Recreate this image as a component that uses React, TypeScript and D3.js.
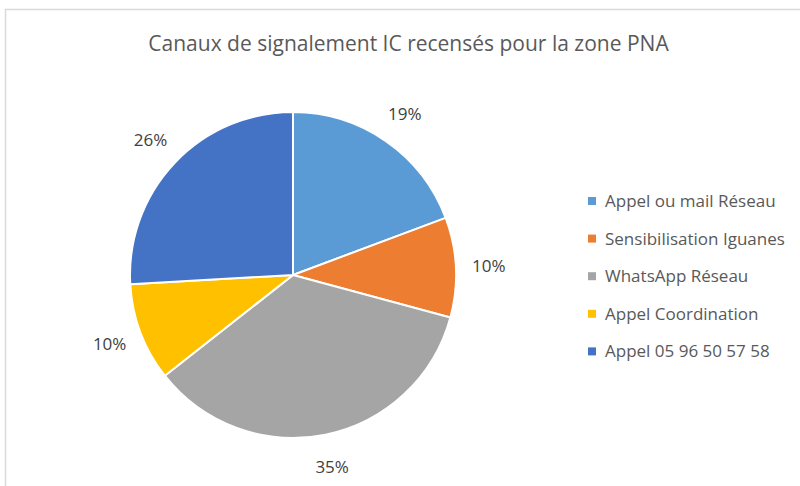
import React, { useEffect, useRef } from "react";
import * as d3 from "d3";

const categories = [
  "Appel ou mail Réseau",
  "Sensibilisation Iguanes",
  "WhatsApp Réseau",
  "Appel Coordination",
  "Appel 05 96 50 57 58",
];
const values = [19.3, 9.9, 35.2, 9.7, 25.9];
const colors = ["#5B9BD5", "#ED7D31", "#A5A5A5", "#FFC000", "#4472C4"];
const title = "Canaux de signalement IC recensés pour la zone PNA";

const App = () => {
  const ref = useRef<SVGSVGElement>(null);

  useEffect(() => {
    const svg = d3.select(ref.current);
    svg.selectAll("*").remove();

    const width = 800;
    const height = 486;
    const cx = 293;
    const cy = 275;
    const radius = 163;
    const font = "'Open Sans', sans-serif";

    svg.attr("width", width).attr("height", height);

    // chart frame (clipped at right and bottom like the screenshot)
    svg
      .append("rect")
      .attr("x", 5.5)
      .attr("y", 9.5)
      .attr("width", 820)
      .attr("height", 500)
      .attr("fill", "white")
      .attr("stroke", "#d9d9d9")
      .attr("stroke-width", 1.5);

    svg
      .append("text")
      .attr("x", 408.5)
      .attr("y", 51)
      .attr("text-anchor", "middle")
      .style("font-family", font)
      .style("font-size", "21px")
      .attr("fill", "#595959")
      .text(title);

    const total = d3.sum(values);
    const pie = d3.pie<number>().sort(null).value((d) => d);
    const arcs = pie(values);
    const arc = d3.arc<d3.PieArcDatum<number>>().innerRadius(0).outerRadius(radius);
    const labelArc = d3
      .arc<d3.PieArcDatum<number>>()
      .innerRadius(196)
      .outerRadius(196);

    const g = svg.append("g").attr("transform", `translate(${cx},${cy})`);

    g.selectAll("path")
      .data(arcs)
      .join("path")
      .attr("d", arc)
      .attr("fill", (_, i) => colors[i])
      .attr("stroke", "white")
      .attr("stroke-width", 2)
      .attr("stroke-linejoin", "round");

    g.selectAll("text")
      .data(arcs)
      .join("text")
      .attr("transform", (d) => `translate(${labelArc.centroid(d)})`)
      .attr("text-anchor", "middle")
      .attr("dy", "0.35em")
      .style("font-family", font)
      .style("font-size", "17px")
      .attr("fill", "#404040")
      .text((d) => `${Math.round((d.data / total) * 100)}%`);

    // legend
    const legend = svg
      .selectAll("g.legend")
      .data(categories)
      .join("g")
      .attr("class", "legend")
      .attr("transform", (_, i) => `translate(588,${201 + i * 37.6})`);

    legend
      .append("rect")
      .attr("x", 0)
      .attr("y", -4)
      .attr("width", 8)
      .attr("height", 8)
      .attr("fill", (_, i) => colors[i]);

    legend
      .append("text")
      .attr("x", 17)
      .attr("dy", "0.35em")
      .style("font-family", font)
      .style("font-size", "17px")
      .attr("fill", "#595959")
      .text((d) => d);
  }, []);

  return (
    <svg
      ref={ref}
      style={{ position: "absolute", left: 0, top: 0, display: "block" }}
    />
  );
};

export default App;
